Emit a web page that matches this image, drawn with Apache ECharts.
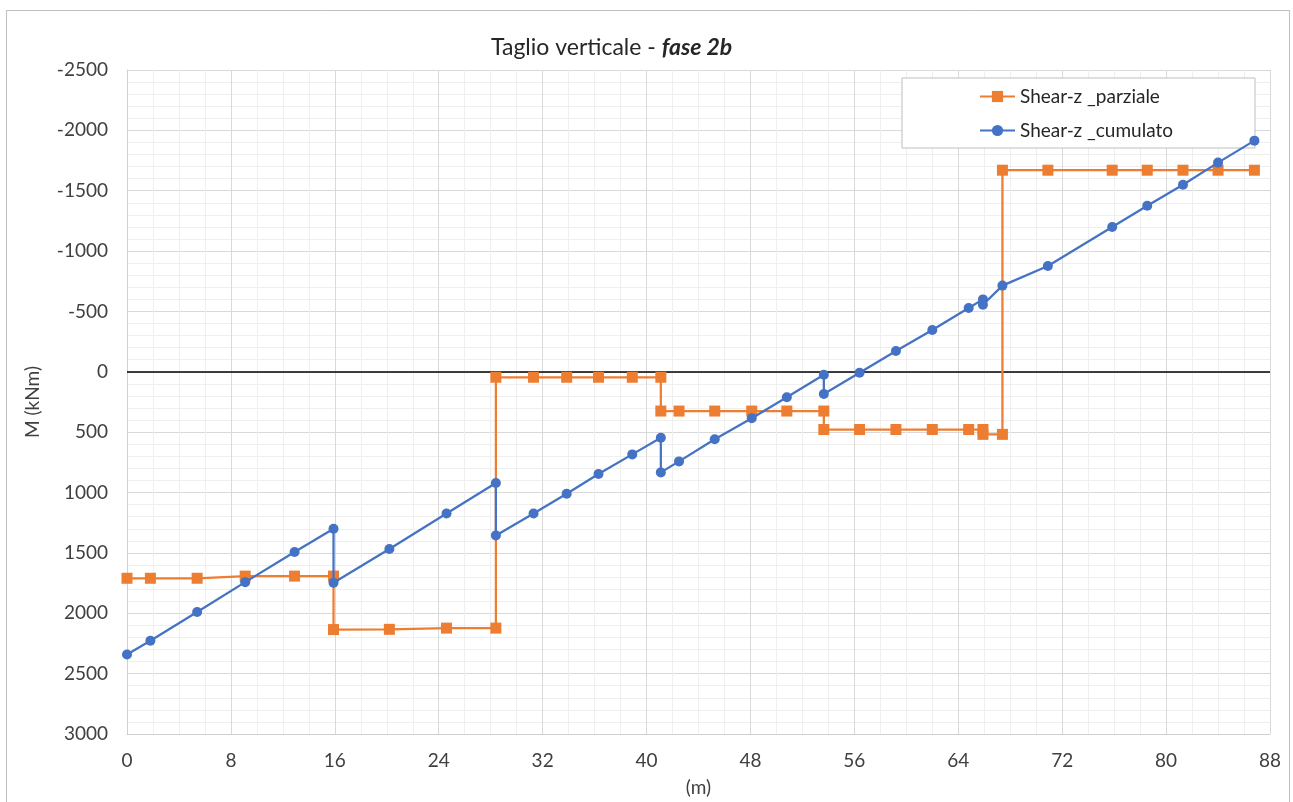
<!DOCTYPE html>
<html>
<head>
<meta charset="utf-8">
<title>Taglio verticale - fase 2b</title>
<script src="https://cdn.jsdelivr.net/npm/echarts@6/dist/echarts.min.js"></script>
<style>
  html, body { margin: 0; padding: 0; background: #ffffff; }
  #chart { width: 1293px; height: 802px; }
</style>
</head>
<body>
<div id="chart"></div>
<script>
// Progressive abscissa along the deck (m)
const xParziale = [0, 1.8, 5.4, 9.1, 12.9, 15.9, 15.9, 20.2, 24.6, 28.4, 28.4, 31.3, 33.85, 36.3, 38.9, 41.1,
  41.1, 42.5, 45.25, 48.1, 50.8, 53.65, 53.65, 56.4, 59.2, 62.0, 64.8, 65.9, 65.9, 67.4, 67.4,
  70.9, 75.85, 78.55, 81.3, 84.0, 86.8];
// Partial vertical shear per segment (kN)
const yParziale = [1710, 1710, 1710, 1692, 1692, 1692, 2135, 2133, 2123, 2123, 45, 45, 45, 45, 45, 45,
  325, 325, 325, 325, 325, 325, 478, 478, 478, 478, 478, 478, 518, 518, -1670,
  -1670, -1670, -1670, -1670, -1670, -1670];

const xCumulato = [0, 1.8, 5.4, 9.1, 12.9, 15.9, 15.9, 20.2, 24.6, 28.4, 28.4, 31.3, 33.85, 36.3, 38.9, 41.1,
  41.1, 42.5, 45.25, 48.1, 50.8, 53.65, 53.65, 56.4, 59.2, 62.0, 64.8, 65.9, 65.9, 67.4,
  70.9, 75.85, 78.55, 81.3, 84.0, 86.8];
// Cumulated vertical shear (kN)
const yCumulato = [2341, 2228, 1990, 1742, 1493, 1300, 1747, 1468, 1173, 921, 1355, 1173, 1010, 847, 684, 546,
  833, 742, 559, 385, 211, 24, 184, 7, -172, -346, -528, -600, -556, -714,
  -876, -1199, -1376, -1550, -1733, -1915];

const seriesNames = ['Shear-z _parziale', 'Shear-z _cumulato'];

const pairs = (xs, ys) => xs.map((x, i) => [x, ys[i]]);

const FONT = 'Lato, "Open Sans", sans-serif';
const TEXT = '#404040';
const plain = v => String(v);

const chart = echarts.init(document.getElementById('chart'), null, { renderer: 'canvas' });

chart.setOption({
  animation: false,
  backgroundColor: '#ffffff',
  textStyle: { fontFamily: FONT },
  graphic: [{
    type: 'rect',
    shape: { x: 6.5, y: 10.5, width: 1283, height: 800 },
    style: { fill: 'none', stroke: '#bfbfbf', lineWidth: 1 },
    silent: true,
    z: -10
  }],
  title: {
    text: '{n|Taglio verticale - }{b|fase 2b}',
    left: 486,
    top: 31,
    textStyle: {
      fontWeight: 'normal',
      rich: {
        n: { fontFamily: FONT, fontSize: 23, color: '#262626', fontWeight: 'normal' },
        b: { fontFamily: FONT, fontSize: 23, color: '#262626', fontWeight: 'bold', fontStyle: 'italic' }
      }
    }
  },
  legend: {
    data: seriesNames,
    orient: 'vertical',
    left: 902,
    top: 78,
    padding: [9, 82, 8, 77],
    itemWidth: 35,
    itemHeight: 14,
    itemGap: 15,
    backgroundColor: '#ffffff',
    borderColor: '#bfbfbf',
    borderWidth: 1,
    borderRadius: 0,
    textStyle: { fontFamily: FONT, fontSize: 19, color: '#262626' }
  },
  grid: {
    left: 127,
    right: 23,
    top: 70,
    bottom: 68,
    containLabel: false,
    outerBoundsMode: 'none'
  },
  xAxis: {
    type: 'value',
    min: 0,
    max: 88,
    interval: 8,
    name: '(m)',
    nameLocation: 'middle',
    nameGap: 44,
    nameTextStyle: { fontFamily: FONT, fontSize: 19, color: TEXT },
    axisLine: { show: true, onZero: false, lineStyle: { color: '#d0d0d0', width: 1 } },
    axisTick: { show: false },
    axisLabel: { fontFamily: FONT, fontSize: 19, color: TEXT, margin: 17, formatter: plain },
    splitLine: { show: true, lineStyle: { color: '#d9d9d9', width: 1 } },
    minorTick: { show: false, splitNumber: 4 },
    minorSplitLine: { show: true, lineStyle: { color: '#efefef', width: 1 } }
  },
  yAxis: {
    type: 'value',
    inverse: true,
    min: -2500,
    max: 3000,
    interval: 500,
    name: 'M (kNm)',
    nameLocation: 'middle',
    nameGap: 85,
    nameRotate: 90,
    nameTextStyle: { fontFamily: FONT, fontSize: 19, color: TEXT },
    axisLine: { show: true, onZero: false, lineStyle: { color: '#d0d0d0', width: 1 } },
    axisTick: { show: false },
    axisLabel: { fontFamily: FONT, fontSize: 19, color: TEXT, margin: 19, formatter: plain },
    splitLine: { show: true, lineStyle: { color: '#d9d9d9', width: 1 } },
    minorTick: { show: false, splitNumber: 5 },
    minorSplitLine: { show: true, lineStyle: { color: '#efefef', width: 1 } }
  },
  series: [
    {
      name: seriesNames[0],
      type: 'line',
      data: pairs(xParziale, yParziale),
      color: '#ED7D31',
      lineStyle: { width: 2.25, color: '#ED7D31' },
      symbol: 'rect',
      symbolSize: 11,
      itemStyle: { color: '#ED7D31' },
      z: 3,
      markLine: {
        silent: true,
        symbol: ['none', 'none'],
        label: { show: false },
        lineStyle: { color: '#000000', width: 1.5, type: 'solid' },
        data: [{ yAxis: 0 }],
        z: 2
      }
    },
    {
      name: seriesNames[1],
      type: 'line',
      data: pairs(xCumulato, yCumulato),
      color: '#4472C4',
      lineStyle: { width: 2.25, color: '#4472C4' },
      symbol: 'circle',
      symbolSize: 10,
      itemStyle: { color: '#4472C4' },
      z: 4
    }
  ]
});
</script>
</body>
</html>
